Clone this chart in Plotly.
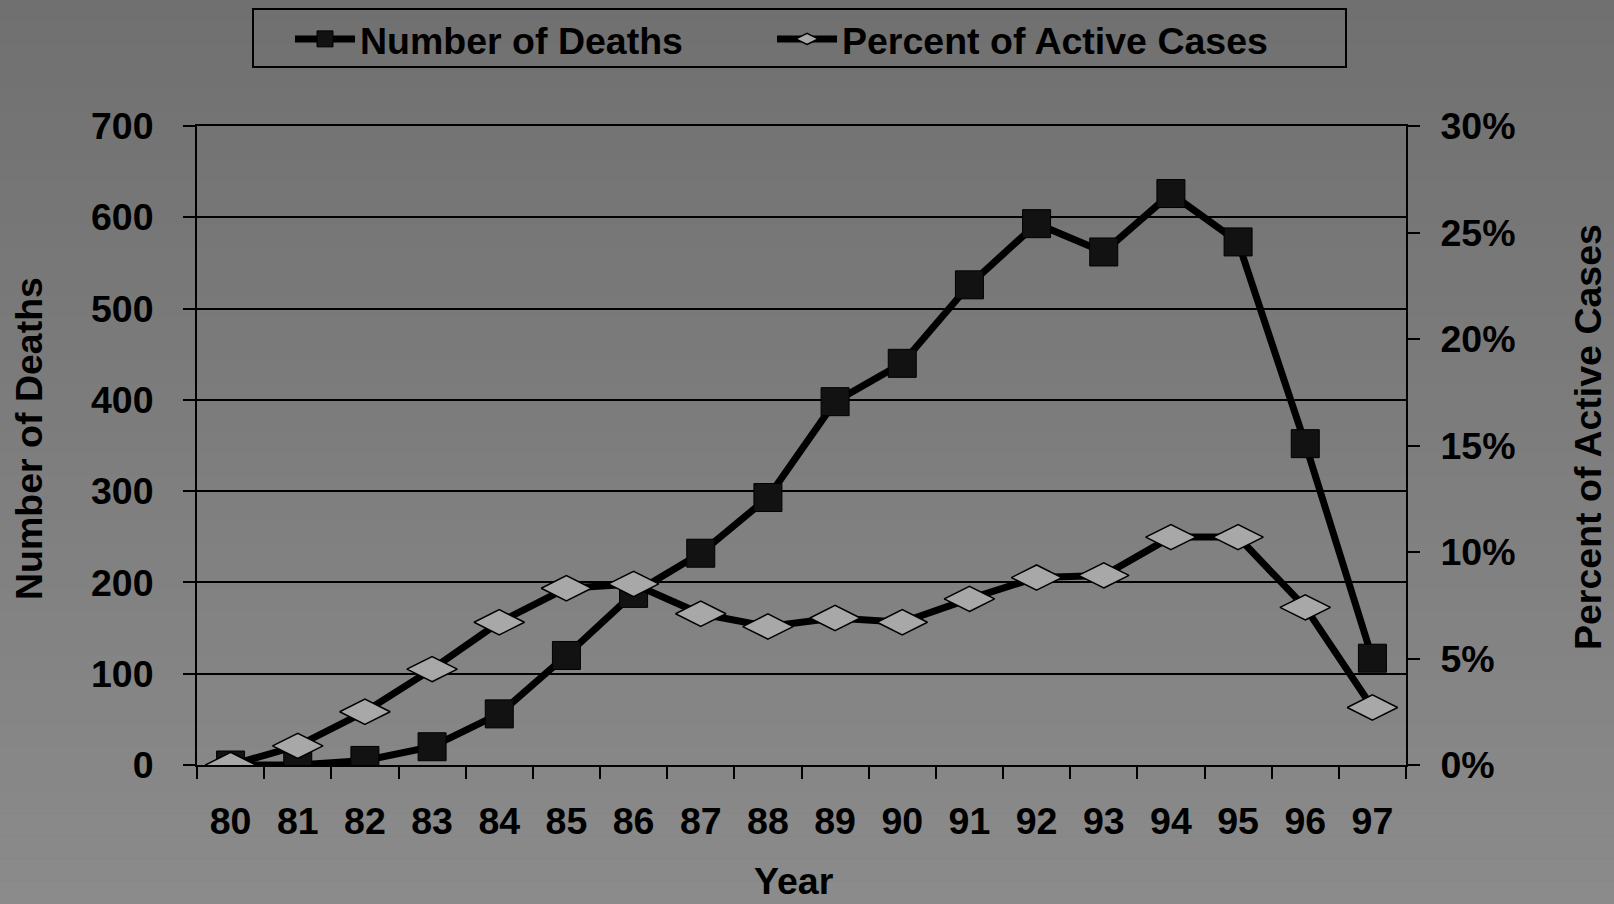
import plotly.graph_objects as go

years = ["80", "81", "82", "83", "84", "85", "86", "87", "88", "89",
         "90", "91", "92", "93", "94", "95", "96", "97"]
deaths = [0, 0, 5, 20, 56, 120, 188, 232, 293, 398,
          440, 526, 593, 562, 626, 573, 352, 117]
pct_active = [0.0, 0.009, 0.025, 0.045, 0.067, 0.083, 0.085, 0.071, 0.065, 0.069,
              0.067, 0.078, 0.088, 0.089, 0.107, 0.107, 0.074, 0.027]

FONT = "Liberation Sans, Arial, sans-serif"
FS = 37.5
W, H = 1614, 904
L, R, T, B = 197, 208, 126, 139
pw, ph = W - L - R, H - T - B


def px_x(x):
    return (x - L) / pw


def px_y(y):
    return (H - B - y) / ph


fig = go.Figure()
fig.add_trace(go.Scatter(
    x=years, y=deaths, name="Number of Deaths", mode="lines+markers",
    line=dict(color="black", width=7),
    marker=dict(symbol="square", size=28, color="#121212", line=dict(color="black", width=1)),
    yaxis="y", legend="legend"))
fig.add_trace(go.Scatter(
    x=years, y=pct_active, name="Percent of Active Cases", mode="lines+markers",
    line=dict(color="black", width=7),
    marker=dict(symbol="diamond-wide", size=36, color="#a8a8a8", line=dict(color="black", width=1.5)),
    yaxis="y2", legend="legend2"))

# gradient background bands
shapes = []
n = 40
y_bot, y_top = px_y(H), px_y(0)
x_l, x_r = px_x(0), px_x(W)
c_top, c_bot = 112, 139
for i in range(n):
    y0 = y_top - (y_top - y_bot) * i / n
    y1 = y_top - (y_top - y_bot) * (i + 1) / n
    c = round(c_top + (c_bot - c_top) * (i + 0.5) / n)
    shapes.append(dict(type="rect", xref="paper", yref="paper", x0=x_l, x1=x_r, y0=y1, y1=y0,
                       fillcolor=f"rgb({c},{c},{c})", line=dict(width=0), layer="below"))
# legend frame
shapes.append(dict(type="rect", xref="paper", yref="paper", x0=px_x(253), x1=px_x(1346),
                   y0=px_y(67), y1=px_y(9), line=dict(color="black", width=2),
                   fillcolor="rgba(0,0,0,0)", layer="below"))

tickfont = dict(family=FONT, size=FS, color="black", weight="bold")
legfont = dict(family=FONT, size=FS, color="black", weight="bold")

fig.update_layout(
    width=W, height=H,
    margin=dict(l=L, r=R, t=T, b=B, autoexpand=False),
    paper_bgcolor="rgb(125,125,125)",
    plot_bgcolor="rgba(0,0,0,0)",
    shapes=shapes,
    showlegend=True,
    legend=dict(orientation="h", x=px_x(290), xanchor="left", y=px_y(8), yanchor="top",
                borderwidth=0, bgcolor="rgba(0,0,0,0)", font=legfont, itemwidth=60),
    legend2=dict(orientation="h", x=px_x(772), xanchor="left", y=px_y(8), yanchor="top",
                 borderwidth=0, bgcolor="rgba(0,0,0,0)", font=legfont, itemwidth=60),
    xaxis=dict(type="category", range=[-0.5, len(years) - 0.5], tickson="boundaries",
               ticks="outside", ticklen=12, tickwidth=2, tickcolor="black",
               showline=True, linecolor="black", linewidth=2, mirror=True,
               showgrid=False, tickfont=tickfont, ticklabelstandoff=22, zeroline=False),
    yaxis=dict(range=[0, 700], dtick=100, ticks="outside", ticklen=12, tickwidth=2, tickcolor="black",
               showline=True, linecolor="black", linewidth=2,
               showgrid=True, gridcolor="black", gridwidth=1.5, zeroline=False,
               tickfont=tickfont, ticklabelstandoff=22),
    yaxis2=dict(range=[0, 0.30], dtick=0.05, tickformat=".0%", overlaying="y", side="right",
                ticks="outside", ticklen=12, tickwidth=2, tickcolor="black",
                showline=True, linecolor="black", linewidth=2, showgrid=False, zeroline=False,
                tickfont=tickfont, ticklabelstandoff=13),
    annotations=[
        dict(text="Number of Deaths", xref="paper", yref="paper", x=px_x(29), y=px_y(439),
             textangle=-90, showarrow=False, xanchor="center", yanchor="middle",
             font=dict(family=FONT, size=FS, color="black", weight="bold")),
        dict(text="Percent of Active Cases", xref="paper", yref="paper", x=px_x(1588), y=px_y(437),
             textangle=-90, showarrow=False, xanchor="center", yanchor="middle",
             font=dict(family=FONT, size=FS, color="black", weight="bold")),
        dict(text="Year", xref="paper", yref="paper", x=px_x(794), y=px_y(881),
             showarrow=False, xanchor="center", yanchor="middle",
             font=dict(family=FONT, size=FS, color="black", weight="bold")),
    ],
)

fig.write_html("out.html", config={"displayModeBar": False},
               post_script="document.body.style.margin='0';document.body.style.overflow='hidden';")
